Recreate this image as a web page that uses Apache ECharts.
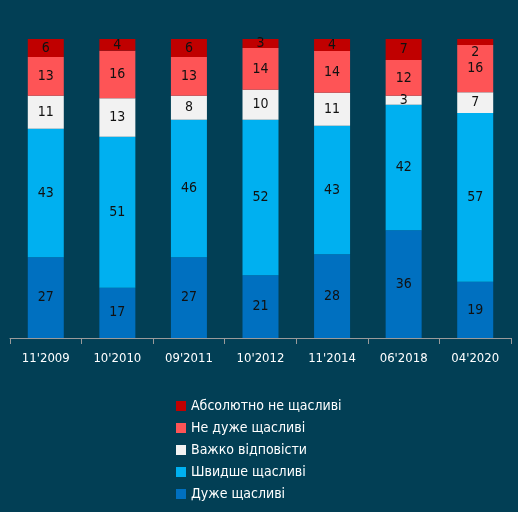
<!DOCTYPE html>
<html>
<head>
<meta charset="utf-8">
<script src="https://cdn.jsdelivr.net/npm/echarts@6/dist/echarts.min.js"></script>
<style>
html,body{margin:0;padding:0;background:#023f55}
#main{width:518px;height:512px}
</style>
</head>
<body>
<div id="main"></div>
<script>
const categories=['11\'2009','10\'2010','09\'2011','10\'2012','11\'2014','06\'2018','04\'2020']
// bottom to top
const veryHappy=[27,17,27,21,28,36,19]
const ratherHappy=[43,51,46,52,43,42,57]
const hardToSay=[11,13,8,10,11,3,7]
const notVeryHappy=[13,16,13,14,14,12,16]
const notHappyAtAll=[6,4,6,3,4,7,2]

const seriesDefs=[
    {name:'Дуже щасливі',data:veryHappy,color:'#0070c0'},
    {name:'Швидше щасливі',data:ratherHappy,color:'#00b0f0'},
    {name:'Важко відповісти',data:hardToSay,color:'#f2f2f2'},
    {name:'Не дуже щасливі',data:notVeryHappy,color:'#fe5456'},
    {name:'Абсолютно не щасливі',data:notHappyAtAll,color:'#c00000'}
]
// each bar is drawn as a share of its own total (totals are 100 or 101 after rounding)
const totals=categories.map((c,i)=>seriesDefs.reduce((s,d)=>s+d.data[i],0))

const font='"DejaVu Sans Condensed",sans-serif'
const chartDom=document.getElementById('main')
let myChart=echarts.init(chartDom)
let option={
    backgroundColor:'#023f55',
    grid:{left:10,right:7,top:39,bottom:174,containLabel:false},
    legend:{
        orient:'vertical',
        left:171,
        top:394,
        width:250,
        height:118,
        itemWidth:10,
        itemHeight:10,
        itemGap:8,
        icon:'rect',
        data:seriesDefs.map(d=>d.name).reverse(),
        textStyle:{color:'#fff',fontSize:14,fontFamily:font}
    },
    xAxis:{
        type:'category',
        data:categories,
        axisLine:{lineStyle:{color:'#9a9a9a',width:1}},
        axisTick:{show:true,length:6,lineStyle:{color:'#9a9a9a'}},
        axisLabel:{color:'#fff',fontSize:13,fontFamily:font,margin:14}
    },
    yAxis:{type:'value',min:0,max:100,show:false,splitLine:{show:false}},
    series:seriesDefs.map(d=>({
        name:d.name,
        type:'bar',
        stack:'total',
        barWidth:36,
        itemStyle:{color:d.color},
        label:{
            show:true,
            position:'inside',
            color:'#111',
            fontSize:14,
            fontFamily:font,
            formatter:p=>d.data[p.dataIndex]
        },
        data:d.data.map((v,i)=>{
            const item={value:v/totals[i]*100}
            if(v<=2) item.label={offset:[0,10]}
            return item
        })
    }))
}

option && myChart.setOption(option);
</script>
</body>
</html>
